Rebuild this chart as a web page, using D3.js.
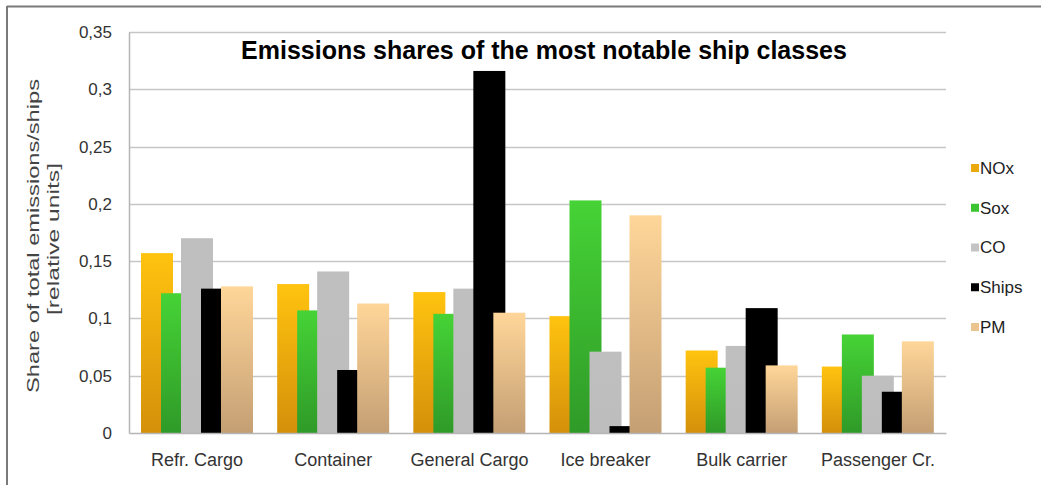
<!DOCTYPE html>
<html>
<head>
<meta charset="utf-8">
<script src="https://cdn.jsdelivr.net/npm/d3@7"></script>
<style>
  html, body { margin: 0; padding: 0; background: #fff; }
  svg { display: block; }
</style>
</head>
<body>
<svg id="chart" width="1041" height="485"></svg>
<script>
// ---- data ----
const categories = ["Refr. Cargo", "Container", "General Cargo", "Ice breaker", "Bulk carrier", "Passenger Cr."];
const seriesNames = ["NOx", "Sox", "CO", "Ships", "PM"];
const NOx   = [0.157, 0.130, 0.123, 0.102, 0.072, 0.058];
const Sox   = [0.122, 0.107, 0.104, 0.203, 0.057, 0.086];
const CO    = [0.170, 0.141, 0.126, 0.071, 0.076, 0.050];
const Ships = [0.126, 0.055, 0.316, 0.006, 0.109, 0.036];
const PM    = [0.128, 0.113, 0.105, 0.190, 0.059, 0.080];
const yTicks = [0, 0.05, 0.1, 0.15, 0.2, 0.25, 0.3, 0.35];
const yTickLabels = ["0", "0,05", "0,1", "0,15", "0,2", "0,25", "0,3", "0,35"];
const title = "Emissions shares of the most notable ship classes";
const yTitle1 = "Share of total emissions/ships";
const yTitle2 = "[relative units]";

const seriesValues = [NOx, Sox, CO, Ships, PM];
const colorsTop    = ["#ffc30f", "#46d336", "#bfbfbf", "#000000", "#ffd699"];
const colorsBottom = ["#d4900a", "#2f9a28", "#bdbdbd", "#000000", "#c49f74"];
const legendColors = ["#eaa90c", "#3cc430", "#c4c4c4", "#000000", "#ebc48f"];

// ---- layout ----
const svg = d3.select("#chart");
const W = 1041, H = 485;
const plot = { left: 129, right: 946, top: 32, bottom: 433 };

svg.append("rect").attr("width", W).attr("height", H).attr("fill", "#fff");

// outer frame (top and left edges visible)
svg.append("line").attr("x1", 7).attr("x2", W).attr("y1", 6.5).attr("y2", 6.5)
  .attr("stroke", "#7a7a7a").attr("stroke-width", 2);
svg.append("line").attr("x1", 7).attr("x2", 7).attr("y1", 6).attr("y2", H)
  .attr("stroke", "#7a7a7a").attr("stroke-width", 2);

const y = d3.scaleLinear().domain([0, 0.35]).range([plot.bottom, plot.top]);
const x = d3.scaleBand().domain(categories).range([plot.left, plot.right]).paddingInner(0).paddingOuter(0);
const barW = 32;
const xi = d3.scalePoint().domain(seriesNames).range([12, 92]);

// gradients
const defs = svg.append("defs");
seriesNames.forEach((s, i) => {
  const g = defs.append("linearGradient").attr("id", "grad" + i)
    .attr("x1", 0).attr("y1", 0).attr("x2", 0).attr("y2", 1);
  g.append("stop").attr("offset", "0%").attr("stop-color", colorsTop[i]);
  g.append("stop").attr("offset", "100%").attr("stop-color", colorsBottom[i]);
});

// gridlines
svg.append("g").selectAll("line").data(yTicks.slice(1)).join("line")
  .attr("x1", plot.left).attr("x2", plot.right)
  .attr("y1", d => Math.round(y(d)) + 0.5).attr("y2", d => Math.round(y(d)) + 0.5)
  .attr("stroke", "#c6c6c6").attr("stroke-width", 1.5);

// y axis
const yAxis = svg.append("g").attr("transform", `translate(${plot.left},0)`)
  .call(d3.axisLeft(y).tickValues(yTicks).tickSize(0).tickPadding(17)
    .tickFormat((d, i) => yTickLabels[i]));
yAxis.select(".domain").attr("stroke", "#b5b5b5").attr("stroke-width", 1.5);
yAxis.selectAll("text").attr("font-family", "'Liberation Sans', Arial, sans-serif")
  .attr("font-size", 17).attr("fill", "#333");

// bars
const groups = svg.append("g").selectAll("g").data(categories).join("g")
  .attr("transform", d => `translate(${x(d)},0)`);
seriesNames.forEach((s, si) => {
  groups.append("rect")
    .attr("x", xi(s))
    .attr("width", barW)
    .attr("y", (d, ci) => y(seriesValues[si][ci]))
    .attr("height", (d, ci) => y(0) - y(seriesValues[si][ci]))
    .attr("fill", `url(#grad${si})`);
});

// x axis (baseline)
const xAxis = svg.append("g").attr("transform", `translate(0,${plot.bottom})`)
  .call(d3.axisBottom(x).tickSize(0).tickPadding(20));
xAxis.select(".domain").attr("stroke", "#b5b5b5").attr("stroke-width", 1.5);
xAxis.selectAll("text").attr("font-family", "'Liberation Sans', Arial, sans-serif")
  .attr("font-size", 18).attr("fill", "#333");

// title
svg.append("text").attr("x", 544).attr("y", 59).attr("text-anchor", "middle")
  .attr("font-family", "'Liberation Sans', Arial, sans-serif")
  .attr("font-weight", "bold").attr("font-size", 25).attr("fill", "#000")
  .text(title);

// y title
const yt = svg.append("g").attr("transform", "translate(0,236) rotate(-90)");
yt.append("text").attr("x", 0).attr("y", 39).attr("text-anchor", "middle")
  .attr("font-family", "'Liberation Sans', Arial, sans-serif")
  .attr("font-size", 17).attr("fill", "#444")
  .attr("textLength", 314).attr("lengthAdjust", "spacingAndGlyphs")
  .text(yTitle1);
yt.append("text").attr("x", -3).attr("y", 59).attr("text-anchor", "middle")
  .attr("font-family", "'Liberation Sans', Arial, sans-serif")
  .attr("font-size", 17).attr("fill", "#444")
  .attr("textLength", 152).attr("lengthAdjust", "spacingAndGlyphs")
  .text(yTitle2);

// legend
const legendY = d3.scalePoint().domain(seriesNames).range([168, 327]);
const lg = svg.append("g").selectAll("g").data(seriesNames).join("g")
  .attr("transform", d => `translate(971,${legendY(d)})`);
lg.append("rect").attr("x", 0).attr("y", -4).attr("width", 8).attr("height", 8)
  .attr("fill", (d, i) => legendColors[i]);
lg.append("text").attr("x", 9).attr("y", 0).attr("dy", "0.35em")
  .attr("font-family", "'Liberation Sans Narrow', 'Liberation Sans', Arial, sans-serif")
  .attr("font-size", 17).attr("fill", "#222")
  .text(d => d);
</script>
</body>
</html>
